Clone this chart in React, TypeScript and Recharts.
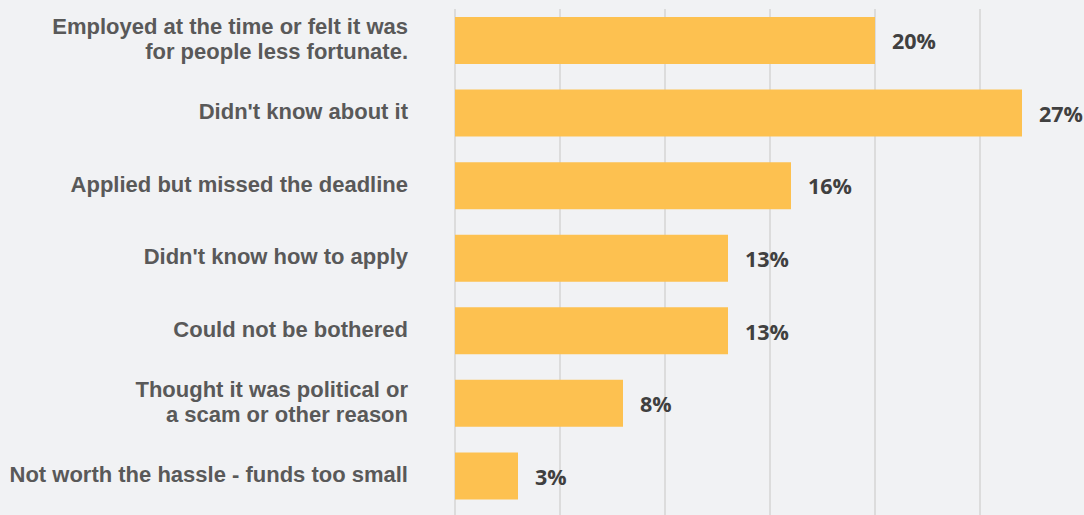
import React from "react";
import { BarChart, Bar, XAxis, YAxis, CartesianGrid, LabelList } from "recharts";

const categories = [
  "Employed at the time or felt it was\nfor people less fortunate.",
  "Didn't know about it",
  "Applied but missed the deadline",
  "Didn't know how to apply",
  "Could not be bothered",
  "Thought it was political or\na scam or other reason",
  "Not worth the hassle - funds too small",
];
const values = [20, 27, 16, 13, 13, 8, 3];
const xTicks = [0, 5, 10, 15, 20, 25, 30];

const data = categories.map((c, i) => ({ name: c, value: values[i] }));

const BG = "#f1f2f4";
const BAR = "#fdc150";

const YTick = (props: any) => {
  const { y, payload } = props;
  const lines = String(payload.value).split("\n");
  const lh = 25;
  const start = -((lines.length - 1) * lh) / 2;
  return (
    <text
      x={408}
      y={y}
      textAnchor="end"
      fill="#595959"
      fontFamily="Liberation Sans, Arial, sans-serif"
      fontWeight="bold"
      fontSize={22}
    >
      {lines.map((l, i) => (
        <tspan key={i} x={408} y={y + start + i * lh - 1} dy="0.34em">
          {l}
        </tspan>
      ))}
    </text>
  );
};

const VLine = (props: any) => {
  const { x1, x2, y1, y2, index } = props;
  return (
    <line
      key={"v" + index}
      x1={x1}
      x2={x2}
      y1={y1 + 5}
      y2={y2 + 4}
      stroke="#dcdcdc"
      strokeWidth={2}
    />
  );
};

const ValueLabel = (props: any) => {
  const { x, y, width, height, value } = props;
  return (
    <text
      x={x + width + 17}
      y={y + height / 2 + 1}
      dy="0.36em"
      fill="#404040"
      fontFamily="Open Sans, sans-serif"
      fontWeight="bold"
      fontSize={21.5}
    >
      {value}%
    </text>
  );
};

export default function App() {
  return (
    <div
      style={{
        position: "absolute",
        left: 0,
        top: 0,
        width: 1084,
        height: 515,
        background: BG,
        overflow: "hidden",
      }}
    >
      <BarChart
        width={1085}
        height={515}
        data={data}
        layout="vertical"
        margin={{ top: 4, right: 0, bottom: 3, left: 0 }}
        barSize={47}
      >
        <CartesianGrid horizontal={false} vertical={VLine} />
        <XAxis type="number" domain={[0, 30]} ticks={xTicks} hide />
        <YAxis
          type="category"
          dataKey="name"
          width={455}
          axisLine={false}
          tickLine={false}
          tick={YTick}
          interval={0}
        />
        <Bar dataKey="value" fill={BAR} isAnimationActive={false}>
          <LabelList dataKey="value" content={ValueLabel} />
        </Bar>
      </BarChart>
    </div>
  );
}
